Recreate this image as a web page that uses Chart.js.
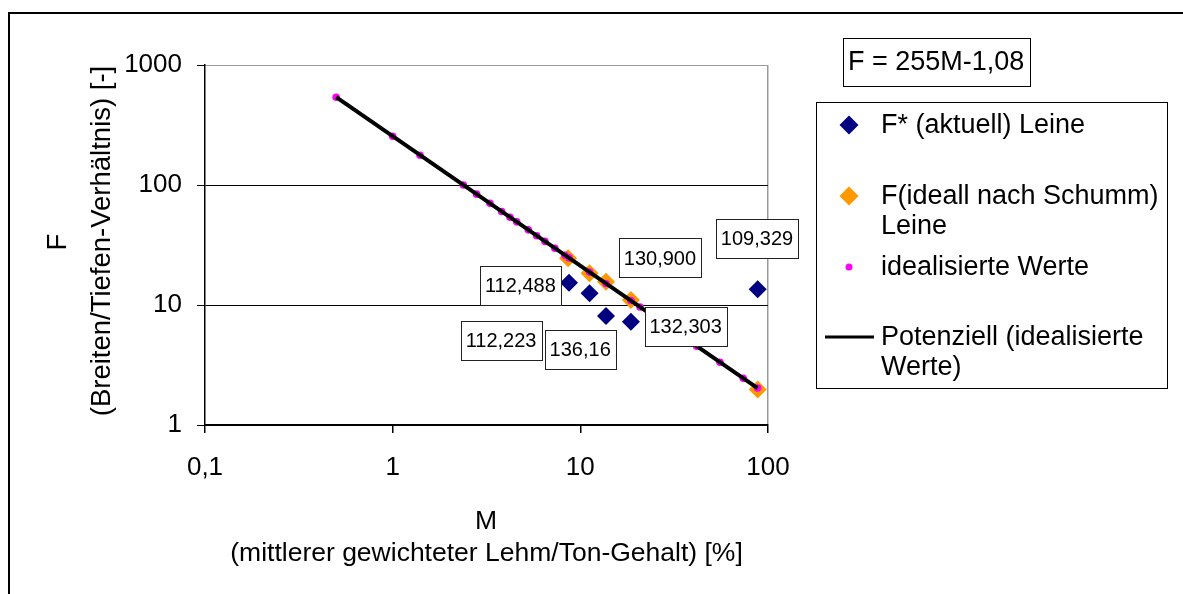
<!DOCTYPE html>
<html><head><meta charset="utf-8">
<script src="https://cdn.jsdelivr.net/npm/chart.js@4.4.1/dist/chart.umd.min.js"></script>
<style>html,body{margin:0;padding:0;background:#fff;}canvas{display:block;}</style>
</head><body>
<canvas id="c" width="1183" height="594"></canvas>
<script>
// ---- data ----
const xTicks = [0.1, 1, 10, 100];
const yTicks = [1, 10, 100, 1000];
const actualM = [8.7, 11.2, 13.7, 18.6, 88.1];
const actualF = [15.3, 12.5, 8.1, 7.26, 13.5];
const idealM = [8.6, 11.2, 13.7, 18.6, 88.1];
const idealF = [24.5, 18.4, 15.6, 11.0, 1.98];
const valuesM = [0.5, 1.0, 1.4, 2.38, 2.8, 3.3, 3.81, 4.22, 4.58, 5.28, 5.85, 6.48, 7.32, 8.28, 8.7, 11.2, 13.7, 18.6, 20.8, 41.7, 55.5, 73.8, 88.0];
const valuesF = [539, 255, 177, 100, 83.9, 70.3, 60.1, 53.9, 49.3, 42.3, 37.8, 33.9, 29.7, 26.0, 24.7, 18.8, 15.1, 10.9, 9.62, 4.54, 3.33, 2.45, 2.03];
const trendM = [0.5, 88];
const trendF = [539, 2.03];
const pointLabels = ['112,488', '112,223', '136,16', '132,303', '109,329', '130,900'];
const seriesNames = ['F* (aktuell) Leine', 'F(ideall nach Schumm)', 'Leine', 'idealisierte Werte', 'Potenziell (idealisierte', 'Werte)'];
const equationText = 'F = 255M-1,08';
const xTitle = ['M', '(mittlerer gewichteter Lehm/Ton-Gehalt) [%]'];
const yTitle = ['F', '(Breiten/Tiefen-Verhältnis) [-]'];

const FONT = '"Liberation Sans", Arial, sans-serif';
const NAVY = '#000080', ORANGE = '#FF9900', MAGENTA = '#FF00FF';

const pts = (xs, ys) => xs.map((v, i) => ({x: v, y: ys[i]}));

// label placement (anchor point index of F* series, pixel offset)
const labelSpots = [
  {i: 0, dx: -48.6, dy: 2.3},
  {i: 1, dx: -88.5, dy: 47.2},
  {i: 2, dx: -25.8, dy: 34},
  {i: 3, dx: 54.7, dy: 4.5},
  {i: 4, dx: -0.7, dy: -50.5},
  {i: 3, dx: 29, dy: -63.7}
];

function diamond(ctx, x, y, r, color) {
  ctx.beginPath();
  ctx.moveTo(x, y - r); ctx.lineTo(x + r, y); ctx.lineTo(x, y + r); ctx.lineTo(x - r, y);
  ctx.closePath(); ctx.fillStyle = color; ctx.fill();
}

const overlay = {
  id: 'overlay',
  afterDatasetsDraw(chart) {
    const ctx = chart.ctx, xs = chart.scales.x, ys = chart.scales.y;
    ctx.save();
    ctx.font = '20px ' + FONT;
    ctx.textAlign = 'center'; ctx.textBaseline = 'middle';
    labelSpots.forEach((s, k) => {
      const cx = xs.getPixelForValue(actualM[s.i]) + s.dx;
      const cy = ys.getPixelForValue(actualF[s.i]) + s.dy;
      const w = Math.round(ctx.measureText(pointLabels[k]).width + 10), h = 39;
      const l = Math.round(cx - w / 2), t = Math.round(cy - h / 2);
      ctx.fillStyle = '#fff'; ctx.fillRect(l, t, w, h);
      ctx.strokeStyle = '#222'; ctx.lineWidth = 1; ctx.strokeRect(l + 0.5, t + 0.5, w, h);
      ctx.fillStyle = '#000'; ctx.fillText(pointLabels[k], cx, cy + 1);
    });
    ctx.restore();
  },
  afterDraw(chart) {
    const ctx = chart.ctx;
    ctx.save();
    // outer frame
    ctx.fillStyle = '#000';
    ctx.fillRect(8, 12, 2, 594);
    ctx.fillRect(8, 12, 1183, 2);
    // axis titles
    ctx.textAlign = 'center'; ctx.textBaseline = 'middle';
    ctx.font = '26.5px ' + FONT;
    ctx.fillText(xTitle[0], 486, 522);
    ctx.fillText(xTitle[1], 486.5, 554);
    ctx.font = '27.5px ' + FONT;
    ctx.save(); ctx.translate(57, 242); ctx.rotate(-Math.PI / 2); ctx.fillText(yTitle[0], 0, 1); ctx.restore();
    ctx.save(); ctx.translate(101, 241); ctx.rotate(-Math.PI / 2); ctx.fillText(yTitle[1], 0, 1); ctx.restore();
    // equation box
    ctx.strokeStyle = '#000'; ctx.lineWidth = 1;
    ctx.strokeRect(843.5, 38.5, 187, 48);
    ctx.font = '27px ' + FONT; ctx.textAlign = 'left';
    ctx.fillText(equationText, 848, 63);
    // legend box
    ctx.strokeRect(816.5, 102.5, 351, 286);
    diamond(ctx, 849, 125, 9.5, NAVY);
    ctx.fillStyle = '#000'; ctx.fillText(seriesNames[0], 881, 126);
    diamond(ctx, 849, 196, 9.5, ORANGE);
    ctx.fillStyle = '#000'; ctx.fillText(seriesNames[1], 881, 197); ctx.fillText(seriesNames[2], 881, 227);
    ctx.beginPath(); ctx.arc(849, 267, 3.5, 0, Math.PI * 2); ctx.fillStyle = MAGENTA; ctx.fill();
    ctx.fillStyle = '#000'; ctx.fillText(seriesNames[3], 881, 268);
    ctx.fillRect(825, 335.5, 49, 3);
    ctx.fillText(seriesNames[4], 881, 338); ctx.fillText(seriesNames[5], 881, 368);
    ctx.restore();
  }
};

new Chart(document.getElementById('c'), {
  type: 'scatter',
  data: {
    datasets: [
      {label: seriesNames[4], data: pts(trendM, trendF), showLine: true, borderColor: '#000', borderWidth: 4, pointRadius: 0, order: 0},
      {label: seriesNames[3], data: pts(valuesM, valuesF), pointStyle: 'circle', pointRadius: 3.8, backgroundColor: MAGENTA, borderWidth: 0, order: 1},
      {label: seriesNames[1], data: pts(idealM, idealF), pointStyle: 'rectRot', pointRadius: 9, backgroundColor: ORANGE, borderWidth: 0, order: 2},
      {label: seriesNames[0], data: pts(actualM, actualF), pointStyle: 'rectRot', pointRadius: 9, backgroundColor: NAVY, borderWidth: 0, order: 3}
    ]
  },
  options: {
    responsive: false, animation: false, devicePixelRatio: 1,
    layout: {padding: {left: 0, top: 65, right: 415, bottom: 0}},
    plugins: {legend: {display: false}, tooltip: {enabled: false}},
    scales: {
      x: {
        type: 'logarithmic', min: 0.1, max: 100, position: 'bottom',
        afterBuildTicks: s => { s.ticks = xTicks.map(v => ({value: v})); },
        afterFit: s => { s.height = 169; },
        ticks: {font: {family: FONT, size: 26}, color: '#000', padding: 19, maxRotation: 0, autoSkip: false,
                callback: v => String(v).replace('.', ',')},
        grid: {drawOnChartArea: true, color: c => (c.tick && c.tick.value === 100) ? '#9a9a9a' : 'rgba(0,0,0,0)',
               tickColor: '#000', tickLength: 8, lineWidth: 1.5},
        border: {display: true, color: '#000', width: 1.5}
      },
      y: {
        type: 'logarithmic', min: 1, max: 1000, position: 'left',
        afterBuildTicks: s => { s.ticks = yTicks.map(v => ({value: v})); },
        afterFit: s => { s.width = 205; },
        ticks: {font: {family: FONT, size: 26}, color: '#000', padding: 15, autoSkip: false,
                callback: v => String(v)},
        grid: {drawOnChartArea: true, color: c => (c.tick && c.tick.value === 1000) ? '#9a9a9a' : '#000',
               tickColor: '#000', tickLength: 8, lineWidth: 1},
        border: {display: true, color: '#000', width: 1.5}
      }
    }
  },
  plugins: [overlay]
});
</script>
</body></html>
